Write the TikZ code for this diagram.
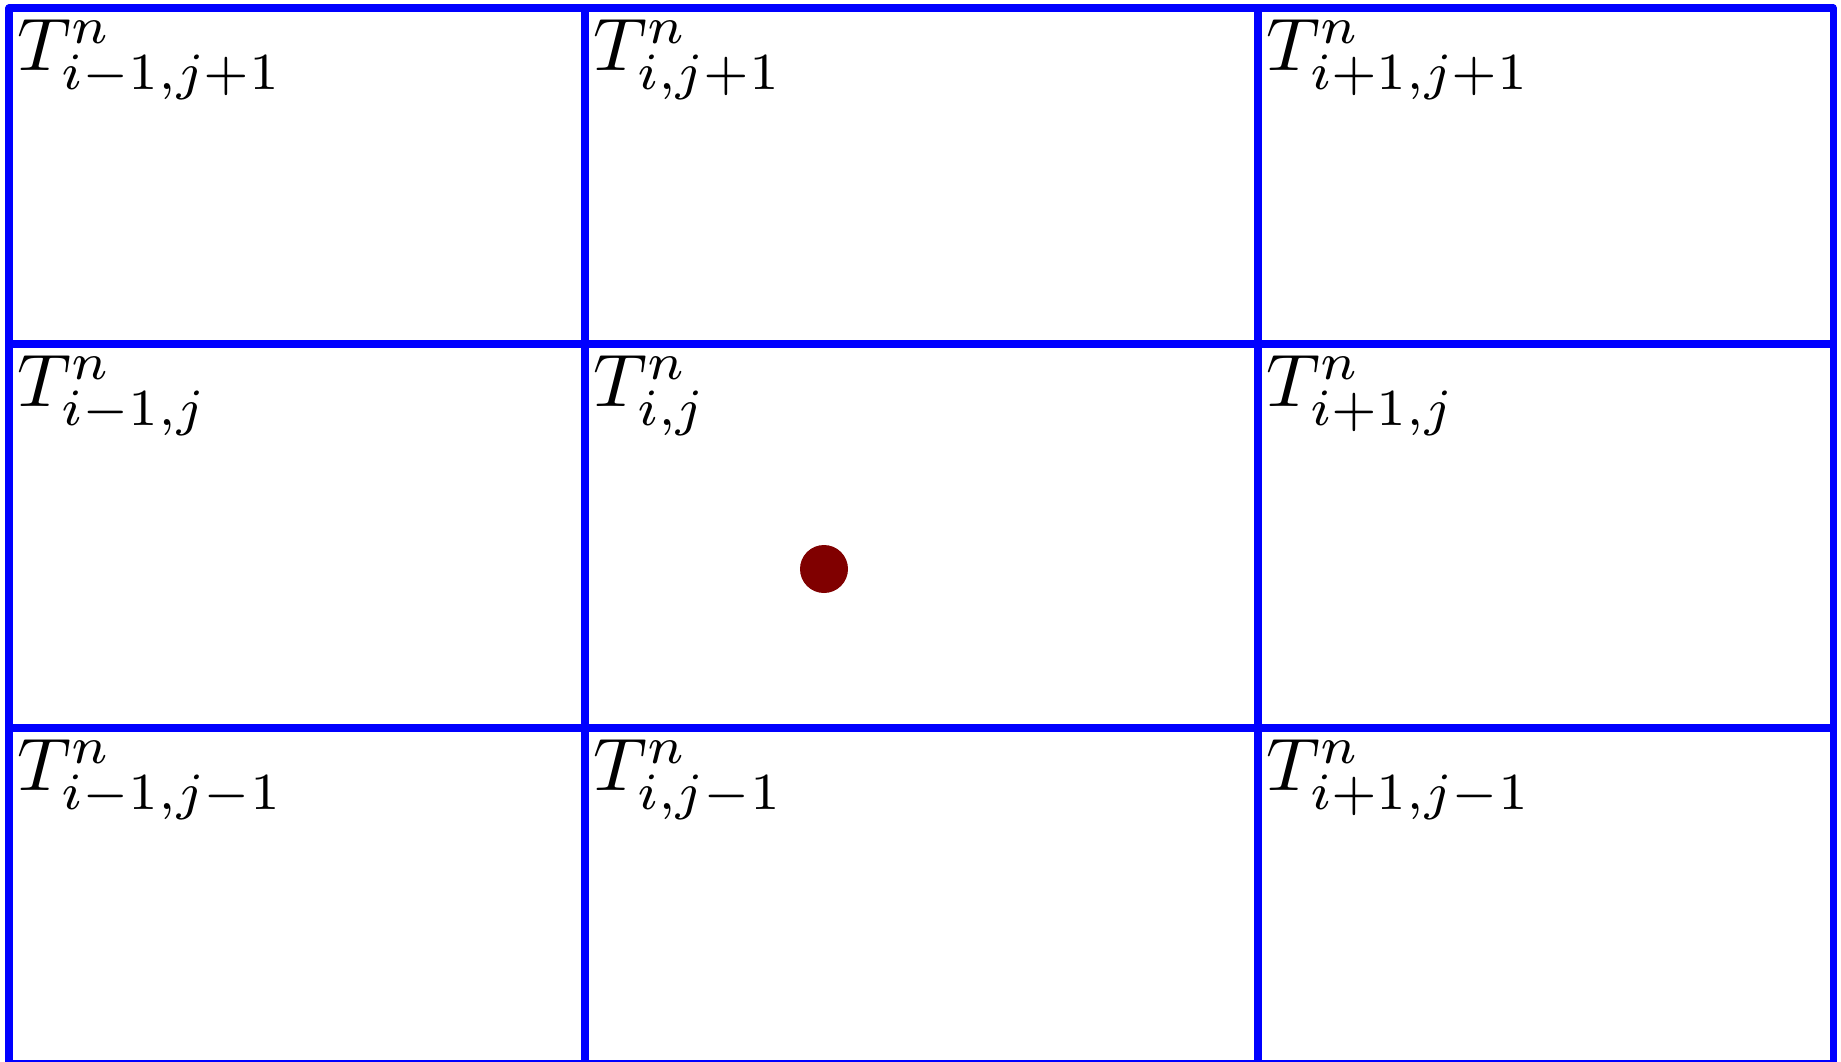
\documentclass[tikz,border=0pt]{standalone}
\usepackage{xcolor}
\definecolor{dotred}{RGB}{128,0,0}

\begin{document}
\begin{tikzpicture}[
  gridline/.style={draw=blue, line width=2pt, line join=round},
  celllabel/.style={anchor=north west, inner sep=0pt, scale=2.12, transform shape},
  point/.style={circle, fill=dotred, inner sep=0pt, minimum size=0.48cm}
]

\useasboundingbox (0,0) rectangle (18.41,10.61);

% grid of cells
\draw[gridline] (0.09,-0.03) rectangle (18.33,10.53);
\draw[gridline] (5.85,-0.03) -- (5.85,10.53);
\draw[gridline] (12.58,-0.03) -- (12.58,10.53);
\draw[gridline] (0.09,7.17) -- (18.33,7.17);
\draw[gridline] (0.09,3.33) -- (18.33,3.33);

% top row
\node[celllabel] (Ttl) at (0.16,10.43) {$T^n_{i-1,j+1}$};
\node[celllabel] (Ttc) at (5.92,10.43) {$T^n_{i,j+1}$};
\node[celllabel] (Ttr) at (12.65,10.43) {$T^n_{i+1,j+1}$};

% middle row
\node[celllabel] (Tml) at (0.16,7.07) {$T^n_{i-1,j}$};
\node[celllabel] (Tmc) at (5.92,7.07) {$T^n_{i,j}$};
\node[celllabel] (Tmr) at (12.65,7.07) {$T^n_{i+1,j}$};

% bottom row
\node[celllabel] (Tbl) at (0.16,3.23) {$T^n_{i-1,j-1}$};
\node[celllabel] (Tbc) at (5.92,3.23) {$T^n_{i,j-1}$};
\node[celllabel] (Tbr) at (12.65,3.23) {$T^n_{i+1,j-1}$};

\node[point] (P) at (8.24,4.92) {};

\end{tikzpicture}
\end{document}
